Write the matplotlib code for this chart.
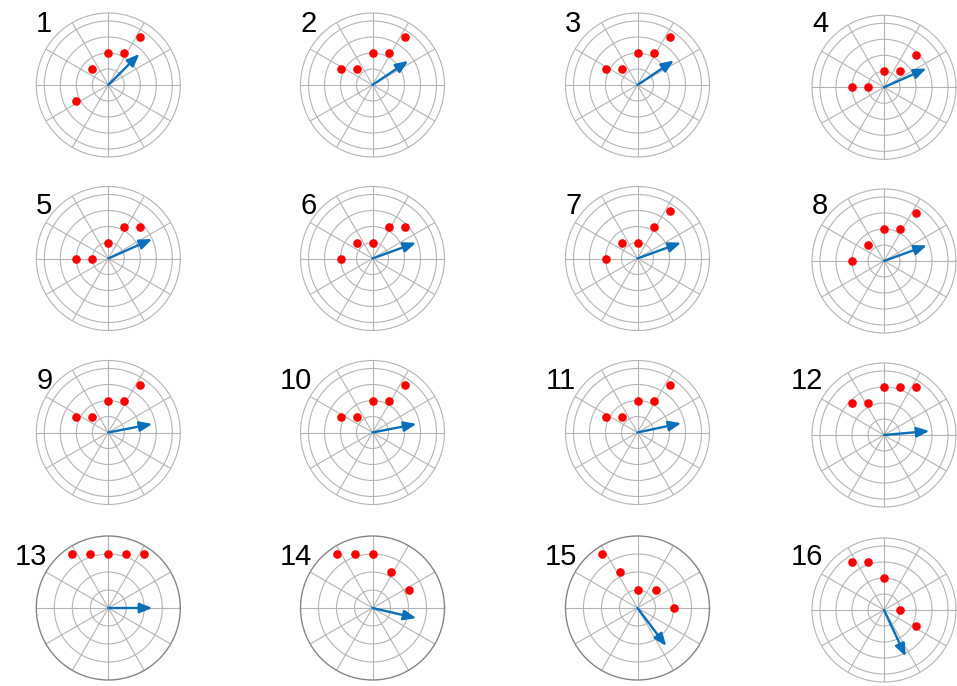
import numpy as np
import matplotlib
matplotlib.use("Agg")
import matplotlib.pyplot as plt

# Lattice positions of the five markers in each panel (x is shared, y per panel)
dot_x = [-2, -1, 0, 1, 2]
dot_y = [
    [-1, 1, 2, 2, 3],
    [1, 1, 2, 2, 3],
    [1, 1, 2, 2, 3],
    [0, 0, 1, 1, 2],
    [0, 0, 1, 2, 2],
    [0, 1, 1, 2, 2],
    [0, 1, 1, 2, 3],
    [0, 1, 2, 2, 3],
    [1, 1, 2, 2, 3],
    [1, 1, 2, 2, 3],
    [1, 1, 2, 2, 3],
    [2, 2, 3, 3, 3],
    [3, 3, 3, 3, 3],
    [3, 3, 3, 2, 1],
    [3, 2, 1, 1, 0],
    [3, 3, 2, 0, -1],
]

# Resultant vector of each panel: direction (degrees) and magnitude
arrow_angle = [45, 34, 34, 24, 24, 20, 20, 20, 11, 11, 12, 5, 0, -13, -53, -65]
arrow_length = [2.75, 2.7, 2.75, 2.9, 3.0, 2.9, 2.9, 2.85, 2.8, 2.8, 2.8, 2.85,
                2.45, 2.5, 2.65, 3.2]

# Radial limit of each panel
r_max = [4.5] * 12 + [4.0, 4.0, 4.0, 4.5]
r_ticks = [1, 2, 3, 4]

panel_labels = [str(i + 1) for i in range(16)]

W, H = 957, 686
fig = plt.figure(figsize=(W / 100, H / 100), dpi=100)
fig.patch.set_facecolor("white")

col_x = [108.3, 372.5, 637.5, 884.0]
row_y = [85.0, 258.5, 432.5, 608.0]
col4_row_y = [87.3, 261.0, 435.0, 610.0]
label_y = [23.5, 205.5, 381.0, 557.0]
R = 72.0

grid_col = "#b4b4b4"
dark_col = "#858585"
red = "#ff0000"
blue = "#0a6fba"

for i in range(16):
    row, col = divmod(i, 4)
    cx = col_x[col]
    cy = col4_row_y[row] if col == 3 else row_y[row]
    ax = fig.add_axes([(cx - R) / W, 1 - (cy + R) / H, 2 * R / W, 2 * R / H],
                      projection="polar")
    rm = r_max[i]
    ax.set_ylim(0, rm)
    ax.set_yticks([t for t in r_ticks if t < rm])
    ax.set_xticks(np.deg2rad(np.arange(0, 360, 30)))
    ax.set_xticklabels([])
    ax.set_yticklabels([])
    ax.tick_params(length=0)
    ax.grid(True, color=grid_col, linewidth=0.8)
    ax.spines["polar"].set_color(dark_col if rm <= 4.0 else grid_col)
    ax.spines["polar"].set_linewidth(1.0 if rm <= 4.0 else 0.8)
    ax.set_facecolor("white")

    xs = np.array(dot_x, dtype=float)
    ys = np.array(dot_y[i], dtype=float)
    theta = np.arctan2(ys, xs)
    rr = np.hypot(xs, ys)
    ax.plot(theta, rr, "o", color=red, markersize=6.2, markeredgewidth=0,
            zorder=4)

    th = np.deg2rad(arrow_angle[i])
    ax.annotate("", xy=(th, arrow_length[i]), xytext=(th, 0),
                arrowprops=dict(arrowstyle="-|>,head_length=0.75,head_width=0.3",
                                color=blue, lw=1.7, shrinkA=0, shrinkB=0,
                                mutation_scale=10),
                zorder=5)

    lbl = panel_labels[i]
    lx = cx - (64 if len(lbl) == 1 else 77)
    fig.text(lx / W, 1 - label_y[row] / H, lbl, ha="center", va="center",
             fontsize=21, family=["Liberation Sans", "DejaVu Sans"],
             color="black")

fig.savefig("out.png", dpi=100, facecolor="white")
